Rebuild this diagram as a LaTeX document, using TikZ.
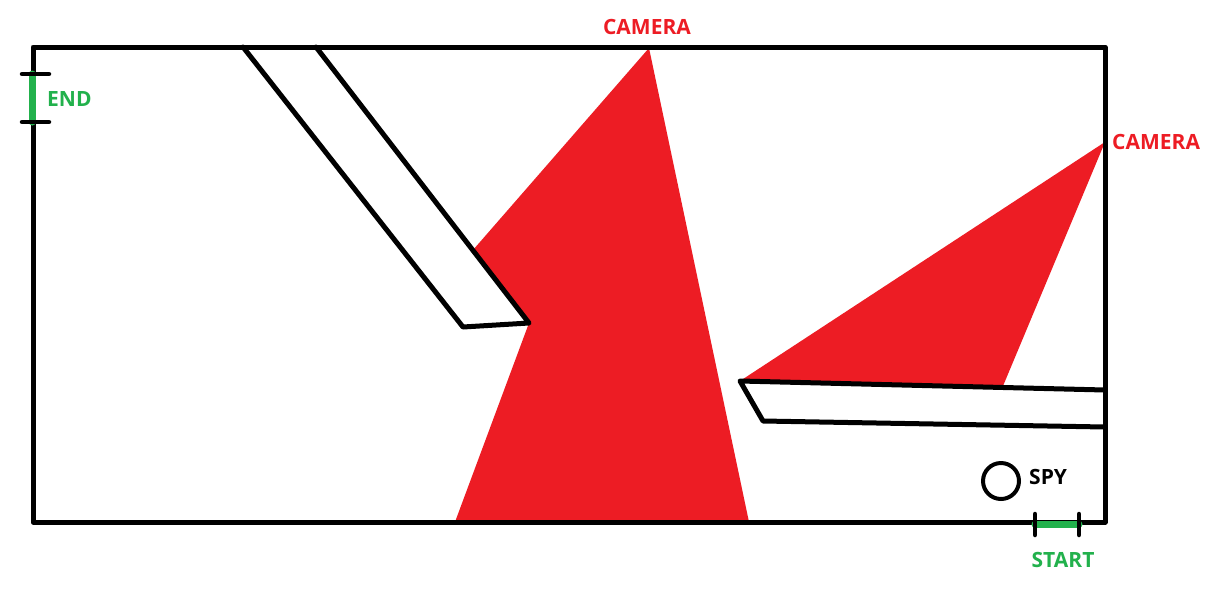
\documentclass[tikz,border=0pt]{standalone}
\usepackage{fontspec}
\setmainfont{Open Sans}
\definecolor{pred}{HTML}{ED1C24}
\definecolor{pgreen}{HTML}{22B14C}
\begin{document}
\begin{tikzpicture}[x=1pt,y=-1pt,
  wall/.style={line width=5pt,line cap=round,line join=round,black},
  zone/.style={fill=pred,draw=none},
  camlabel/.style={text=pred,font=\fontsize{21}{21}\selectfont\bfseries,inner sep=0pt},
  greenlabel/.style={text=pgreen,font=\fontsize{21}{21}\selectfont\bfseries,inner sep=0pt},
  blacklabel/.style={text=black,font=\fontsize{21}{21}\selectfont\bfseries,inner sep=0pt},
  tick/.style={line width=4.5pt,line cap=round,black},
  gbar/.style={line width=7pt,line cap=round,pgreen}]
\useasboundingbox[fill=white] (0,0) rectangle (1223,590);
% coordinates
\coordinate (TL) at (33,47);
\coordinate (TR) at (1105,47);
\coordinate (BR) at (1105,522);
\coordinate (BL) at (33,522);
\coordinate (cam1) at (649,48);
\coordinate (cam2) at (1105,142);
% red zones
\fill[zone] (cam1) -- (473,250) -- (529,323) -- (455,522) -- (749,522) -- cycle;
\fill[zone] (cam2) -- (740,381) -- (1003,386) -- cycle;
% outer walls
\draw[wall] (TL) -- (TR) -- (BR) -- (BL) -- cycle;
% obstacle 1
\coordinate (o1a) at (243,47);
\coordinate (o1b) at (316,47);
\coordinate (o1c) at (529,323);
\coordinate (o1d) at (463,327);
\draw[wall] (o1b) -- (o1c) -- (o1d) -- (o1a);
% obstacle 2
\coordinate (o2a) at (1105,390);
\coordinate (o2b) at (740,381);
\coordinate (o2c) at (763,421);
\coordinate (o2d) at (1105,427);
\draw[wall] (o2a) -- (o2b) -- (o2c) -- (o2d);
% END marker
\coordinate (e1) at (32,74);
\coordinate (e2) at (32,122);
\draw[gbar] (e1) -- (e2);
\draw[tick] (22,74) -- (49,74);
\draw[tick] (22,122) -- (49,122);
\node[greenlabel,anchor=west] (endl) at (47,99) {END};
% START marker
\coordinate (s1) at (1035,524);
\coordinate (s2) at (1079,524);
\draw[gbar] (s1) -- (s2);
\draw[tick] (1035,514) -- (1035,535);
\draw[tick] (1079,514) -- (1079,535);
\node[greenlabel] (startl) at (1063,560) {START};
% spy
\node[draw,line width=4pt,circle,minimum size=36pt,inner sep=0pt] (spy) at (1001,481) {};
\node[blacklabel,anchor=west] (spyl) at (1029,477) {SPY};
% camera labels
\node[camlabel] (c1l) at (647,27) {CAMERA};
\node[camlabel,anchor=west] (c2l) at (1112,142) {CAMERA};
\end{tikzpicture}
\end{document}
